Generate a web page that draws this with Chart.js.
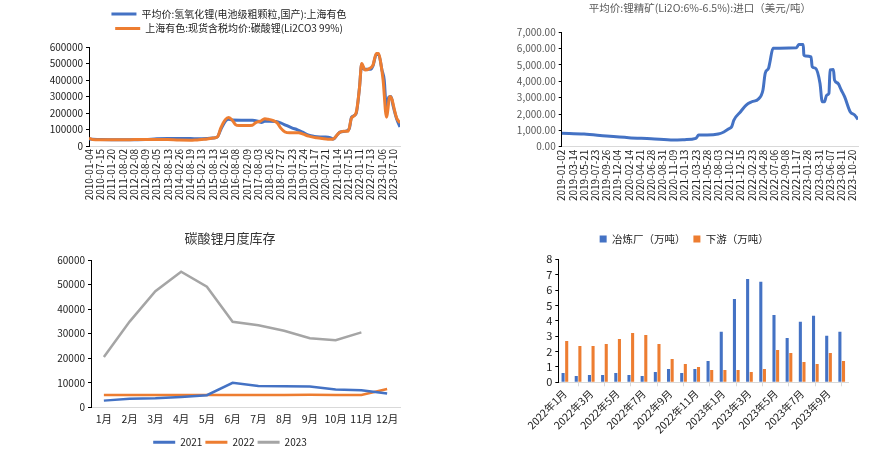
<!DOCTYPE html>
<html>
<head>
<meta charset="utf-8">
<script src="https://cdn.jsdelivr.net/npm/chart.js@4.4.0/dist/chart.umd.min.js"></script>
<style>
  body { margin: 0; background: #fff; width: 887px; height: 460px; position: relative; overflow: hidden; }
  .box { position: absolute; }
</style>
</head>
<body>
<div class="box" style="left:0;top:0;width:440px;height:230px"><canvas id="c1"></canvas></div>
<div class="box" style="left:440px;top:0;width:447px;height:230px"><canvas id="c2"></canvas></div>
<div class="box" style="left:0;top:225px;width:440px;height:235px"><canvas id="c3"></canvas></div>
<div class="box" style="left:440px;top:225px;width:447px;height:235px"><canvas id="c4"></canvas></div>
<script>
// ---- 氢氧化锂 / 碳酸锂 价格 (元/吨), x = 日期标签序号
const priceDates = ['2010-01-04','2010-07-15','2011-01-20','2011-08-02','2012-02-08','2012-08-09','2013-02-05',
  '2013-08-13','2014-02-26','2014-08-19','2015-02-13','2015-08-13','2016-02-16','2016-08-08','2017-02-09',
  '2017-08-03','2018-01-26','2018-07-27','2019-01-23','2019-07-24','2020-01-17','2020-07-21','2021-01-14',
  '2021-07-15','2022-01-11','2022-07-13','2023-01-06','2023-07-10'];
const liohPrice = [[0,42000],[1,39000],[2,38000],[3,38000],[4,38000],[5,39000],[6,44000],[7,46000],[8,46000],
  [9,45000],[10,44000],[10.5,45000],[11,48000],[11.4,55000],[11.7,100000],[12.1,150000],[12.4,162000],
  [12.7,157000],[13.5,156000],[14.5,156000],[15,150000],[15.3,143000],[15.6,150000],[16,150000],[16.6,148000],
  [17,140000],[17.5,125000],[18,110000],[18.5,98000],[19,82000],[19.5,65000],[20,58000],[20.5,55000],
  [21,54000],[21.4,50000],[21.7,42000],[22,65000],[22.3,85000],[22.8,90000],[23.1,105000],[23.3,175000],
  [23.7,195000],[24,350000],[24.2,495000],[24.4,465000],[25,465000],[25.2,485000],[25.5,555000],[25.7,555000],
  [26,460000],[26.2,400000],[26.4,220000],[26.6,295000],[26.8,300000],[27,240000],[27.3,165000],[27.6,115000]];
const li2co3Price = [[0,47000],[0.3,40000],[1,38000],[2,38000],[3,38000],[4,39000],[5,40000],[6,40000],
  [7,39000],[8,36000],[9,35000],[9.5,37000],[10,40000],[10.5,42000],[11,48000],[11.4,55000],[11.7,110000],
  [12.1,160000],[12.4,172000],[12.7,158000],[13,130000],[13.3,124000],[14,124000],[14.5,126000],[14.8,142000],
  [15.2,150000],[15.6,165000],[15.9,162000],[16.3,155000],[16.7,140000],[17,110000],[17.4,85000],[17.8,80000],
  [18.6,80000],[19,72000],[19.5,60000],[20.2,50000],[20.7,45000],[21.2,41000],[21.6,41000],[22.2,80000],
  [22.6,90000],[23,90000],[23.3,170000],[23.7,200000],[24,350000],[24.2,500000],[24.5,460000],[24.9,470000],
  [25.2,490000],[25.5,560000],[25.7,560000],[25.9,500000],[26.1,400000],[26.4,175000],[26.7,300000],
  [26.9,280000],[27.1,220000],[27.3,170000],[27.6,140000]];

// ---- 锂精矿进口均价 (美元/吨)
const oreDates = ['2019-01-02','2019-03-14','2019-05-21','2019-07-23','2019-09-26','2019-12-04','2020-02-14',
  '2020-04-21','2020-06-28','2020-08-31','2020-11-09','2021-01-13','2021-03-23','2021-05-28','2021-08-03',
  '2021-10-12','2021-12-15','2022-02-23','2022-04-28','2022-07-06','2022-09-08','2022-11-17','2023-01-28',
  '2023-03-31','2023-06-07','2023-08-11','2023-10-20'];
const orePrice = [[0,816],[2,770],[4,650],[6,550],[8,490],[10,410],[11,430],[12,510],[12.25,714],[13,714],
  [14,775],[14.5,900],[15,1120],[15.2,1220],[15.4,1630],[16,2140],[16.5,2550],[17,2750],[17.6,2920],[18,3470],
  [18.2,4490],[18.5,4800],[18.6,5100],[18.9,6020],[21,6050],[21.2,6250],[21.6,6250],[21.66,5610],[21.8,5550],
  [22.3,5500],[22.4,4900],[22.7,4800],[23.1,3880],[23.3,2750],[23.5,2750],[23.7,3160],[23.9,3260],[24,4700],
  [24.3,4730],[24.4,4080],[24.7,3880],[25,3470],[25.3,3060],[25.8,2140],[26.2,1940],[26.5,1670]];

// ---- 碳酸锂月度库存 (吨)
const months = ['1月','2月','3月','4月','5月','6月','7月','8月','9月','10月','11月','12月'];
const stock2021 = [2700,3500,3700,4200,4900,9950,8700,8600,8450,7200,6900,5600];
const stock2022 = [5000,5000,5000,5000,5000,5000,5000,5000,5100,5000,5000,7400];
const stock2023 = [20500,34900,47300,55200,49100,34800,33400,31200,28100,27300,30500,null];

// ---- 库存 (万吨)
const invMonths = ['2022年1月','2022年2月','2022年3月','2022年4月','2022年5月','2022年6月','2022年7月','2022年8月',
  '2022年9月','2022年10月','2022年11月','2022年12月','2023年1月','2023年2月','2023年3月','2023年4月','2023年5月',
  '2023年6月','2023年7月','2023年8月','2023年9月','2023年10月'];
const smelter = [0.61,0.41,0.48,0.48,0.61,0.48,0.41,0.67,0.87,0.61,0.87,1.39,3.28,5.42,6.72,6.53,4.38,2.88,3.93,4.32,3.02,3.28];
const downstream = [2.69,2.36,2.36,2.49,2.82,3.21,3.08,2.49,1.52,1.19,1.0,0.8,0.8,0.8,0.67,0.87,2.1,1.91,1.32,1.19,1.91,1.39];

const BLUE = '#4472C4', ORANGE = '#ED7D31', GRAY = '#A5A5A5';
Chart.defaults.font.family = '"Noto Sans CJK SC", "Noto Sans", sans-serif';
Chart.defaults.font.size = 10;
Chart.defaults.color = '#222';
Chart.defaults.animation = false;
Chart.defaults.plugins.tooltip.enabled = false;

const pts = arr => arr.map(p => ({ x: p[0], y: p[1] }));
const noBorderBox = c => Chart.defaults.plugins.legend.labels.generateLabels(c).map(l => ({ ...l, lineWidth: 0 }));
// empty title used only as a gap between legend and plot
const spacer = h => ({ display: true, text: '', weight: 500, font: { size: 1 }, padding: { top: 0, bottom: h - 1.2 } });
// move legend / title sideways after layout (they centre on the whole canvas otherwise)
const nudge = (dx, boxes) => ({
  id: 'nudge',
  afterLayout: c => boxes.forEach(k => { if (c[k]) { c[k].left += dx; c[k].right += dx; } })
});

function yAxis(max, step, width, ticks) {
  return {
    min: 0, max: max,
    afterFit: s => { s.width = width; },
    border: { color: '#000' },
    grid: { drawOnChartArea: false, color: '#000', tickLength: 3 },
    ticks: Object.assign({ stepSize: step, padding: 3, autoSkip: false, callback: v => String(v) }, ticks || {})
  };
}

// 1 ---------------------------------------------------------------
new Chart(document.getElementById('c1'), {
  type: 'line',
  data: {
    datasets: [
      { label: '平均价:氢氧化锂(电池级粗颗粒,国产):上海有色', data: pts(liohPrice), borderColor: BLUE, backgroundColor: BLUE, order: 1 },
      { label: '上海有色:现货含税均价:碳酸锂(Li2CO3 99%)', data: pts(li2co3Price), borderColor: ORANGE, backgroundColor: ORANGE, order: 0 }
    ]
  },
  options: {
    responsive: true, maintainAspectRatio: false,
    layout: { padding: { left: 46, right: 40, top: 4.5, bottom: 0 } },
    elements: { point: { radius: 0 }, line: { borderWidth: 3, cubicInterpolationMode: 'monotone' } },
    plugins: {
      title: spacer(3.5),
      legend: { labels: { boxWidth: 25, boxHeight: 3, padding: 4.5, generateLabels: noBorderBox,
        sort: (a, b) => a.datasetIndex - b.datasetIndex } }
    },
    scales: {
      x: {
        type: 'linear', min: 0, max: 27.6,
        afterFit: s => { s.height = 84; },
        border: { color: '#d9d9d9' },
        grid: { display: false, drawTicks: false },
        ticks: { stepSize: 1, autoSkip: false, maxRotation: 90, minRotation: 90, padding: 3, includeBounds: false,
          callback: v => priceDates[v] }
      },
      y: yAxis(600000, 100000, 43)
    }
  },
  plugins: [nudge(6, ['legend'])]
});

// 2 ---------------------------------------------------------------
new Chart(document.getElementById('c2'), {
  type: 'line',
  data: {
    datasets: [{ label: '锂精矿', data: pts(orePrice), borderColor: BLUE, backgroundColor: BLUE }]
  },
  options: {
    responsive: true, maintainAspectRatio: false,
    layout: { padding: { left: 75.7, right: 29, top: 0, bottom: 0 } },
    elements: { point: { radius: 0 }, line: { borderWidth: 3, cubicInterpolationMode: 'monotone' } },
    plugins: {
      legend: { display: false },
      title: { display: true, text: '平均价:锂精矿(Li2O:6%-6.5%):进口（美元/吨）', color: '#595959',
        font: { size: 10.5, weight: 'normal' }, padding: { top: 2, bottom: 17.7 } }
    },
    scales: {
      x: {
        type: 'linear', min: 0, max: 26.5,
        afterFit: s => { s.height = 83.3; },
        border: { color: '#d9d9d9' },
        grid: { display: false, drawTicks: false },
        ticks: { stepSize: 1, autoSkip: false, maxRotation: 90, minRotation: 90, padding: 3, includeBounds: false,
          callback: v => oreDates[v] }
      },
      y: yAxis(7000, 1000, 46, { color: '#595959',
        callback: v => v.toLocaleString('en-US', { minimumFractionDigits: 2, maximumFractionDigits: 2 }) })
    }
  },
  plugins: [nudge(13, ['titleBlock'])]
});

// 3 ---------------------------------------------------------------
new Chart(document.getElementById('c3'), {
  type: 'line',
  data: {
    labels: months,
    datasets: [
      { label: '2021', data: stock2021, borderColor: BLUE, backgroundColor: BLUE },
      { label: '2022', data: stock2022, borderColor: ORANGE, backgroundColor: ORANGE },
      { label: '2023', data: stock2023, borderColor: GRAY, backgroundColor: GRAY }
    ]
  },
  options: {
    responsive: true, maintainAspectRatio: false,
    layout: { padding: { left: 55, right: 40, top: 0, bottom: 2.75 } },
    elements: { point: { radius: 0 }, line: { borderWidth: 2.5 } },
    plugins: {
      title: { display: true, text: '碳酸锂月度库存', color: '#333', font: { size: 13, weight: 'normal' },
        padding: { top: 5.2, bottom: 14.2 } },
      legend: { position: 'bottom', labels: { boxWidth: 22, boxHeight: 3, padding: 3, generateLabels: noBorderBox } }
    },
    scales: {
      x: {
        offset: true,
        afterFit: s => { s.height = 27; },
        border: { color: '#d9d9d9' },
        grid: { display: false, drawTicks: false },
        ticks: { maxRotation: 0, padding: 5, font: { size: 10.5 } }
      },
      y: yAxis(60000, 10000, 36)
    }
  },
  plugins: [nudge(2.5, ['legend', 'titleBlock'])]
});

// 4 ---------------------------------------------------------------
new Chart(document.getElementById('c4'), {
  type: 'bar',
  data: {
    labels: invMonths,
    datasets: [
      { label: '冶炼厂（万吨）', data: smelter, backgroundColor: BLUE },
      { label: '下游（万吨）', data: downstream, backgroundColor: ORANGE }
    ]
  },
  options: {
    responsive: true, maintainAspectRatio: false,
    layout: { padding: { left: 80, right: 38.7, top: 0.75, bottom: 0 } },
    datasets: { bar: { categoryPercentage: 0.55, barPercentage: 0.85 } },
    plugins: {
      title: spacer(5),
      legend: { labels: { boxWidth: 7, boxHeight: 7, padding: 8, font: { size: 10.5 } } }
    },
    scales: {
      x: {
        afterFit: s => { s.height = 77.7; },
        border: { color: '#d9d9d9' },
        grid: { offset: true, drawOnChartArea: false, color: '#d9d9d9', tickLength: 4 },
        ticks: { autoSkip: false, maxRotation: 45, minRotation: 45, padding: 1, font: { size: 10.5 },
          callback: (v, i) => (i % 2 === 0 ? invMonths[i] : null) }
      },
      y: yAxis(8, 1, 38.3, { font: { size: 11 } })
    }
  }
});
</script>
</body>
</html>
